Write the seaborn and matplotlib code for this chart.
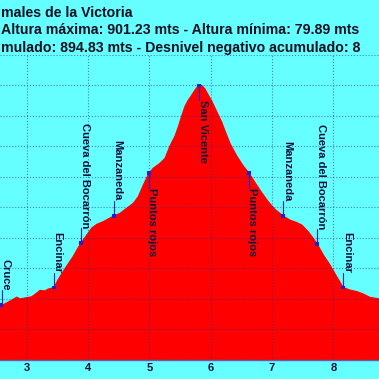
"""
Elevation profile (cropped view) with waypoint labels.
Output: out.png
"""

import matplotlib
matplotlib.use("Agg")
import matplotlib.pyplot as plt
import matplotlib.transforms as mtransforms
import seaborn as sns
import pandas as pd

# ---------------------------------------------------------------------------
# Data
# ---------------------------------------------------------------------------
dist_km = [2.56, 2.674, 2.755, 2.837, 2.891, 2.972, 3.082, 3.163, 3.217, 3.298,
           3.347, 3.445, 3.510, 3.592, 3.674, 3.755, 3.837, 3.886, 3.979, 4.060,
           4.142, 4.249, 4.331, 4.424, 4.522, 4.631, 4.739, 4.820, 4.902, 4.994,
           5.065, 5.174, 5.255, 5.337, 5.418, 5.472, 5.528, 5.582, 5.636, 5.691,
           5.745, 5.794, 5.826, 5.864, 5.908, 5.962, 6.017, 6.071, 6.125, 6.180,
           6.234, 6.315, 6.425, 6.532, 6.625, 6.723, 6.832, 6.940, 7.049, 7.185,
           7.294, 7.403, 7.485, 7.592, 7.674, 7.739, 7.837, 7.946, 8.055, 8.163,
           8.272, 8.382, 8.489, 8.599, 8.75]
elev_m = [175, 187, 196, 206, 200, 203, 207, 219, 228, 226,
          232, 237, 262, 289, 314, 338, 367, 382, 409, 432,
          444, 453, 462, 472, 480, 497, 513, 535, 573, 612,
          628, 644, 660, 701, 733, 763, 799, 831, 851, 867,
          884, 897, 901.23, 897, 887, 867, 848, 825, 802, 779,
          750, 709, 668, 635, 612, 581, 548, 518, 493, 471,
          458, 450, 442, 420, 398, 379, 344, 311, 273, 237,
          229, 224, 216, 205, 200]

wp_names = ["Cruce", "Encinar", "Cueva del Bocarrón", "Manzaneda", "Puntos rojos",
            "San Vicente", "Puntos rojos", "Manzaneda", "Cueva del Bocarrón", "Encinar"]
wp_km = [2.59, 3.445, 3.886, 4.424, 4.994, 5.815, 6.625, 7.185, 7.739, 8.163]
wp_elev = [180, 237, 382, 472, 612, 899, 612, 471, 379, 237]

x_ticks = [3, 4, 5, 6, 7, 8]
y_grid = list(range(0, 1001, 100))

title_lines = [
    "males de la Victoria",
    "Altura máxima: 901.23 mts - Altura mínima: 79.89 mts",
    "mulado: 894.83 mts - Desnivel negativo acumulado: 8",
]

# label placement: +1 text above the point, -1 text below
wp_side = [1, 1, 1, 1, -1, -1, -1, 1, 1, 1]

BG = "#66FFFF"
FONT = ["Liberation Sans", "DejaVu Sans"]

# ---------------------------------------------------------------------------
# Chart
# ---------------------------------------------------------------------------
sns.set_style("white")
plt.rcParams["font.family"] = FONT

W = H = 379
fig = plt.figure(figsize=(W / 100, H / 100), dpi=100, facecolor=BG)
ax = fig.add_axes([0, 19 / H, 1, 305.5 / H])
ax.set_facecolor(BG)

profile = pd.DataFrame({"km": dist_km, "elev": elev_m})
ax.fill_between(profile["km"], profile["elev"], 0, color="#FF0000", lw=0, zorder=1)
sns.lineplot(data=profile, x="km", y="elev", color="#FF0000", lw=0.8, ax=ax, zorder=1)

ax.set_xlim(2.5646, 8.745)
ax.set_ylim(0, 1000)
ax.set_xticks(x_ticks)
ax.set_xticklabels([str(t) for t in x_ticks], fontsize=8, fontweight="bold", color="#10103a")
ax.set_yticks(y_grid)
ax.tick_params(axis="y", labelleft=False, length=0)
ax.tick_params(axis="x", length=0, pad=2)
ax.set_xlabel("")
ax.set_ylabel("")
ax.set_axisbelow(False)
ax.grid(True, color="#30308a", linestyle=":", lw=0.8, alpha=0.6)
for s in ["top", "left", "right"]:
    ax.spines[s].set_visible(False)
ax.spines["bottom"].set_color("#6060a8")
ax.spines["bottom"].set_linewidth(1)

# waypoints
gap = 49
label_tr = mtransforms.offset_copy(ax.transData, fig=fig, x=3.5, y=0, units="dots")
for name, km, el, side in zip(wp_names, wp_km, wp_elev, wp_side):
    end = el + side * gap
    ax.plot([km, km], [el, end], color="#2020d0", lw=0.8, zorder=4)
    ax.text(km, end, name, rotation=-90, ha="center",
            va="bottom" if side > 0 else "top",
            fontsize=8, fontweight="bold", color="#10103a",
            transform=label_tr, zorder=5)
sns.scatterplot(x=wp_km, y=wp_elev, marker="s", s=7, color="#2020d0",
                edgecolor="none", ax=ax, zorder=6)

# title (cropped)
for i, line in enumerate(title_lines):
    fig.text(1 / W, 1 - (16.7 + 17.5 * i) / H, line, ha="left", va="baseline",
             fontsize=10.2, fontweight="bold", color="#111122")

fig.savefig("out.png", dpi=100, facecolor=BG)
plt.close(fig)
